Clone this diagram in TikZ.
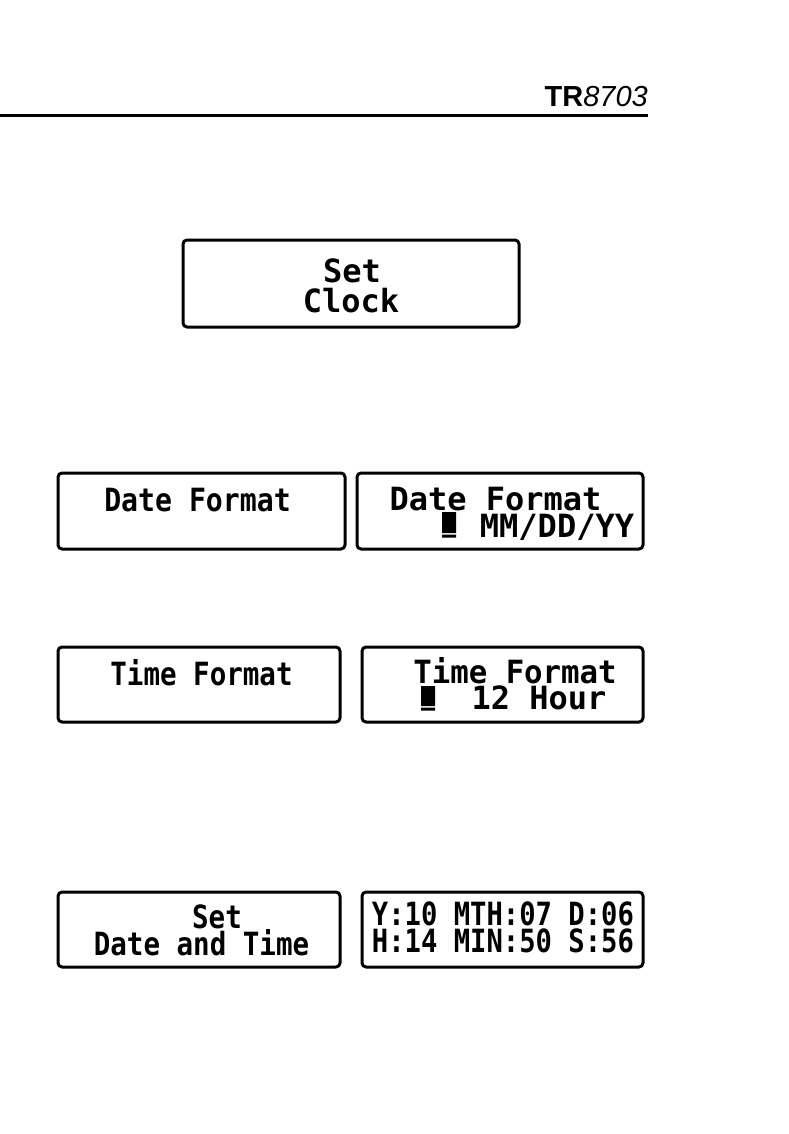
\documentclass[tikz,border=0pt]{standalone}
\usepackage{fontspec}
\newfontfamily\hdrfont{Liberation Sans}
\newfontfamily\lcdfont{DejaVu Sans Mono}
\tikzset{
  every picture/.style={line join=round, line cap=round},
  lcd/.style={draw, line width=3pt, rounded corners=4pt, inner sep=0pt},
  lcdtext/.style={font=\lcdfont\bfseries\fontsize{32}{30}\selectfont, inner sep=0pt, anchor=base},
}
\newcommand{\sq}[2]{\scalebox{#1}[1]{#2}}

\begin{document}
\begin{tikzpicture}[x=1pt,y=-1pt]
\useasboundingbox (0,0) rectangle (788,1134);
% header
\node[font=\hdrfont\fontsize{29}{32}\selectfont, inner sep=0pt, anchor=base east] (hdr) at (648,107) {\textbf{TR}\textit{8703}};
\draw[line width=3pt, line cap=butt] (0,116)--(648,116);
% displays
\node[lcd, minimum width=336pt, minimum height=87pt] (clock) at (351,283.5) {};
\node[lcd, minimum width=287pt, minimum height=76pt] (datefmt) at (201.5,511) {};
\node[lcd, minimum width=286pt, minimum height=76pt] (datesel) at (500,511) {};
\node[lcd, minimum width=282pt, minimum height=75pt] (timefmt) at (199,684.5) {};
\node[lcd, minimum width=281pt, minimum height=75pt] (timesel) at (502.5,684.5) {};
\node[lcd, minimum width=282pt, minimum height=75pt] (dtset) at (199,929.5) {};
\node[lcd, minimum width=281pt, minimum height=75pt] (dtval) at (502.5,929.5) {};
% display texts
\node[lcdtext] (clockA) at (352,282) {Set};
\node[lcdtext] (clockB) at (351,312) {Clock};
\node[lcdtext] (datefmtA) at (197.5,511) {\sq{0.88}{Date Format}};
\node[lcdtext] (dateselA) at (495.5,510) {Date Format};
\node[lcdtext] (dateselB) at (557,537) {MM/DD/YY};
\node[lcdtext] (timefmtA) at (201.5,685) {\sq{0.86}{Time Format}};
\node[lcdtext] (timeselA) at (515,683) {\sq{0.96}{Time Format}};
\node[lcdtext] (timeselB) at (539,709) {12 Hour};
\node[lcdtext] (dtsetA) at (217,928) {\sq{0.86}{Set}};
\node[lcdtext] (dtsetB) at (201.5,955) {\sq{0.86}{Date and Time}};
\node[lcdtext] (dtvalA) at (503,925) {\sq{0.85}{Y:10 MTH:07 D:06}};
\node[lcdtext] (dtvalB) at (503,952) {\sq{0.85}{H:14 MIN:50 S:56}};
% cursors
\fill (442,512) rectangle (456,533) (442,534.5) rectangle (456,537.5);
\fill (421,686) rectangle (435,706) (421,707.5) rectangle (435,710.5);
\end{tikzpicture}
\end{document}
